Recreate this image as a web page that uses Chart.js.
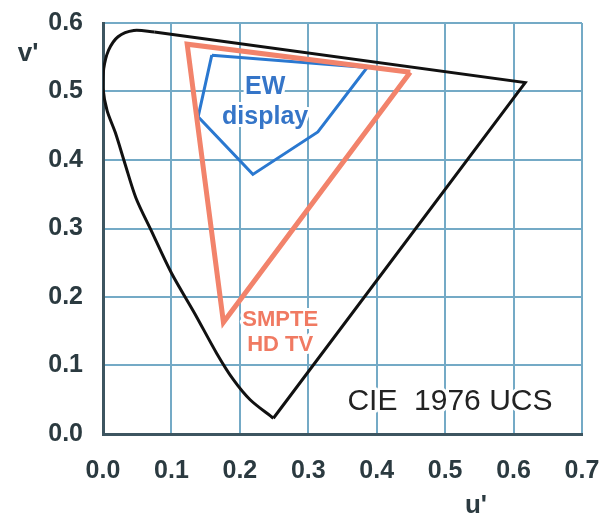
<!DOCTYPE html>
<html>
<head>
<meta charset="utf-8">
<script src="https://cdn.jsdelivr.net/npm/chart.js@4"></script>
<style>
  html, body { margin: 0; padding: 0; background: #fff; }
  #wrap { width: 613px; height: 516px; }
</style>
</head>
<body>
<div id="wrap"><canvas id="cie"></canvas></div>
<script>
// spectral locus, curved part (u', v') from top going round the left side to the bottom
const locusU = [0.075, 0.045, 0.022, 0.008, 0.001, 0.000, 0.006, 0.018, 0.032, 0.048, 0.070, 0.100, 0.134, 0.166, 0.190, 0.215, 0.249];
const locusV = [0.587, 0.589, 0.580, 0.560, 0.533, 0.505, 0.472, 0.440, 0.395, 0.345, 0.298, 0.235, 0.176, 0.118, 0.080, 0.050, 0.023];
// straight part: bottom -> red end -> back to top
const edgeU = [0.249, 0.617, 0.075];
const edgeV = [0.023, 0.513, 0.587];
// SMPTE HD TV primaries (R, G, B, back to R)
const smpteU = [0.449, 0.123, 0.176, 0.449];
const smpteV = [0.528, 0.569, 0.163, 0.528];
// EW display gamut
const ewU = [0.159, 0.386, 0.314, 0.219, 0.139, 0.159];
const ewV = [0.553, 0.535, 0.441, 0.379, 0.463, 0.553];

const xTicks = [0.0, 0.1, 0.2, 0.3, 0.4, 0.5, 0.6, 0.7];
const yTicks = [0.0, 0.1, 0.2, 0.3, 0.4, 0.5, 0.6];

const pts = (us, vs) => us.map((u, i) => ({ x: u, y: vs[i] }));

const TICK_FONT = { family: '"Liberation Sans", Arial, sans-serif', size: 25, weight: 'bold' };

// text labels drawn in data space
const labels = [
  { text: 'EW', u: 0.237, v: 0.507, color: '#3575c8', font: 'bold 25px "Liberation Sans", Arial, sans-serif' },
  { text: 'display', u: 0.237, v: 0.462, color: '#3575c8', font: 'bold 25px "Liberation Sans", Arial, sans-serif' },
  { text: 'SMPTE', u: 0.259, v: 0.167, color: '#f07a62', font: 'bold 22px "Liberation Sans", Arial, sans-serif' },
  { text: 'HD TV', u: 0.259, v: 0.130, color: '#f07a62', font: 'bold 22px "Liberation Sans", Arial, sans-serif' },
  { text: 'CIE  1976 UCS', u: 0.507, v: 0.047, color: '#222', font: '30px "Liberation Sans", Arial, sans-serif' }
];

const textPlugin = {
  id: 'textPlugin',
  afterDatasetsDraw(chart) {
    const c = chart.ctx;
    const xs = chart.scales.x, ys = chart.scales.y;
    c.save();
    c.textAlign = 'center';
    c.textBaseline = 'middle';
    labels.forEach(l => {
      const px = xs.getPixelForValue(l.u), py = ys.getPixelForValue(l.v);
      c.font = l.font;
      c.lineJoin = 'round';
      c.lineWidth = 6;
      c.strokeStyle = '#fff';
      c.strokeText(l.text, px, py);
      c.fillStyle = l.color;
      c.fillText(l.text, px, py);
    });
    // axis titles
    c.font = 'bold 26px "Liberation Sans", Arial, sans-serif';
    c.fillStyle = '#2b3a40';
    c.fillText("u'", xs.getPixelForValue(0.545), chart.chartArea.bottom + 72);
    c.fillText("v'", 28, ys.getPixelForValue(0.555));
    c.restore();
  }
};

// drop the label overhang so the plot box sits where the layout padding puts it
const noOverhang = s => { s.paddingTop = 0; s.paddingBottom = 0; s.paddingLeft = 0; s.paddingRight = 0; };

new Chart(document.getElementById('cie'), {
  type: 'scatter',
  data: {
    datasets: [
      { data: pts(ewU, ewV), showLine: true, borderColor: '#2a78d0', borderWidth: 3, pointRadius: 0, tension: 0, order: 3 },
      { data: pts(smpteU, smpteV), showLine: true, borderColor: '#f2836b', borderWidth: 5, pointRadius: 0, tension: 0, borderJoinStyle: 'miter', order: 2 },
      { data: pts(locusU, locusV), showLine: true, borderColor: '#111', borderWidth: 3, pointRadius: 0, tension: 0.3, order: 1 },
      { data: pts(edgeU, edgeV), showLine: true, borderColor: '#111', borderWidth: 3, pointRadius: 0, tension: 0, order: 1 }
    ]
  },
  options: {
    responsive: true,
    maintainAspectRatio: false,
    animation: false,
    layout: { padding: { top: 23, right: 31, left: 0, bottom: 0 } },
    plugins: { legend: { display: false }, tooltip: { enabled: false } },
    scales: {
      x: {
        type: 'linear', min: 0, max: 0.7,
        afterBuildTicks: s => { s.ticks = xTicks.map(v => ({ value: v })); },
        afterFit: s => { s.height = 82; noOverhang(s); },
        grid: { color: '#74aac6', lineWidth: 2, drawTicks: false },
        border: { color: '#3d5560', width: 3 },
        ticks: { color: '#2b3a40', font: TICK_FONT, padding: 22, callback: v => v.toFixed(1) }
      },
      y: {
        type: 'linear', min: 0, max: 0.6,
        afterBuildTicks: s => { s.ticks = yTicks.map(v => ({ value: v })); },
        afterFit: s => { s.width = 103; noOverhang(s); },
        grid: { color: '#74aac6', lineWidth: 2, drawTicks: false },
        border: { color: '#3d5560', width: 3 },
        ticks: { color: '#2b3a40', font: TICK_FONT, padding: 20, callback: v => v.toFixed(1) }
      }
    }
  },
  plugins: [textPlugin]
});
</script>
</body>
</html>
